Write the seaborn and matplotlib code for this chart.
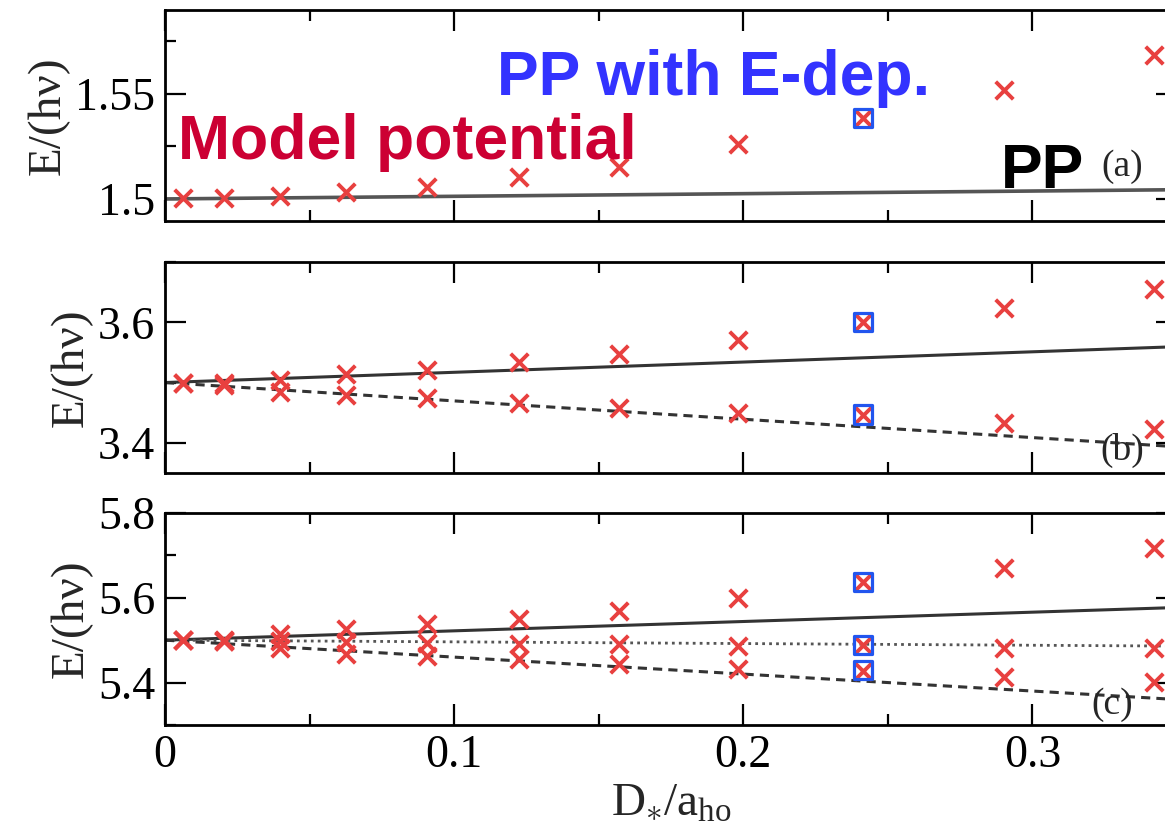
import numpy as np
import pandas as pd
import matplotlib
matplotlib.use("Agg")
import matplotlib.pyplot as plt
from matplotlib.ticker import MultipleLocator
import seaborn as sns

# ---------------- data ----------------
x_vals = [0.0062, 0.0204, 0.0398, 0.0626, 0.0907, 0.1225, 0.157, 0.198, 0.2415, 0.290, 0.342]

a_model = [1.5005, 1.5005, 1.5014, 1.5033, 1.5057, 1.5105, 1.5152, 1.5262, 1.5386, 1.5519, 1.5686]

b_model_up = [3.500, 3.500, 3.505, 3.515, 3.521, 3.534, 3.547, 3.570, 3.600, 3.623, 3.656]
b_model_dn = [3.499, 3.496, 3.485, 3.479, 3.474, 3.466, 3.457, 3.449, 3.447, 3.433, 3.423]

c_model_up = [5.500, 5.500, 5.514, 5.526, 5.538, 5.550, 5.569, 5.600, 5.638, 5.671, 5.717]
c_model_mid = [5.500, 5.499, 5.497, 5.496, 5.493, 5.492, 5.490, 5.486, 5.488, 5.482, 5.481]
c_model_dn = [5.500, 5.497, 5.481, 5.467, 5.462, 5.455, 5.443, 5.433, 5.428, 5.414, 5.402]

edep_x = [0.2415]
a_edep = [1.5386]
b_edep = [3.600, 3.447]
c_edep = [5.638, 5.488, 5.430]

line_x = [0.0, 0.35]
a_pp = [1.5, 1.5044]
b_pp_up = [3.5, 3.5595]
b_pp_dn = [3.5, 3.3935]
c_pp_up = [5.5, 5.577]
c_pp_mid = [5.5, 5.486]
c_pp_dn = [5.5, 5.360]

x_ticks = [0, 0.1, 0.2, 0.3]
ylabel = "E/(h\u03bd)"
xlabel = r"D$_{\ast}$/a$_{\rm ho}$"

# ---------------- style ----------------
sns.set_theme(style="ticks")
plt.rcParams["font.family"] = ["Liberation Serif", "DejaVu Serif"]
plt.rcParams["mathtext.fontset"] = "custom"
plt.rcParams["mathtext.rm"] = "Liberation Serif"
plt.rcParams["mathtext.it"] = "Liberation Serif:italic"
plt.rcParams["mathtext.bf"] = "Liberation Serif:bold"

RED = "#e8403f"
BLUE = "#2255ee"
TICK_FS = 33
LABEL_FS = 34

fig = plt.figure(figsize=(11.65, 8.33), dpi=100)
left = 165 / 1165
width = (1177 - 165) / 1165
ax_a = fig.add_axes([left, 0.7347, width, 0.2533])
ax_b = fig.add_axes([left, 0.4322, width, 0.2533])
ax_c = fig.add_axes([left, 0.1297, width, 0.2545])


def draw_line(ax, ys, ls, color="#333333", lw=2.2):
    df = pd.DataFrame({"x": line_x, "y": ys})
    sns.lineplot(data=df, x="x", y="y", ax=ax, color=color, lw=lw,
                 linestyle=ls, zorder=2, sort=False)


def draw_x(ax, ys):
    df = pd.DataFrame({"x": x_vals, "y": ys})
    sns.scatterplot(data=df, x="x", y="y", ax=ax, marker="x", s=160,
                    color=RED, linewidth=2.8, zorder=3)


def draw_sq(ax, ys):
    df = pd.DataFrame({"x": edep_x * len(ys), "y": ys})
    sns.scatterplot(data=df, x="x", y="y", ax=ax, marker="s", s=170,
                    facecolor="none", edgecolor=BLUE, linewidth=2.3, zorder=4)


# panel (a)
draw_line(ax_a, a_pp, "-", color="#555555", lw=2.6)
draw_x(ax_a, a_model)
draw_sq(ax_a, a_edep)
ax_a.set_ylim(1.4895, 1.59)
ax_a.yaxis.set_major_locator(MultipleLocator(0.05))
ax_a.yaxis.set_minor_locator(MultipleLocator(0.025))
ax_a.set_yticks([1.5, 1.55])
ax_a.set_yticklabels(["1.5", "1.55"])

# panel (b)
draw_line(ax_b, b_pp_up, "-")
draw_line(ax_b, b_pp_dn, (0, (3, 2)))
draw_x(ax_b, b_model_up)
draw_x(ax_b, b_model_dn)
draw_sq(ax_b, b_edep)
ax_b.set_ylim(3.35, 3.70)
ax_b.yaxis.set_major_locator(MultipleLocator(0.2))
ax_b.yaxis.set_minor_locator(MultipleLocator(0.1))

# panel (c)
draw_line(ax_c, c_pp_up, "-")
draw_line(ax_c, c_pp_mid, (0, (1, 1.5)), color="#555555", lw=2.0)
draw_line(ax_c, c_pp_dn, (0, (3, 2)))
draw_x(ax_c, c_model_up)
draw_x(ax_c, c_model_mid)
draw_x(ax_c, c_model_dn)
draw_sq(ax_c, c_edep)
ax_c.set_ylim(5.30, 5.80)
ax_c.yaxis.set_major_locator(MultipleLocator(0.2))
ax_c.yaxis.set_minor_locator(MultipleLocator(0.1))

for ax in (ax_a, ax_b, ax_c):
    ax.set_xlim(0, 0.35)
    ax.xaxis.set_major_locator(MultipleLocator(0.1))
    ax.xaxis.set_minor_locator(MultipleLocator(0.05))
    ax.tick_params(which="both", direction="in", top=True, right=True,
                   labelsize=TICK_FS, colors="black")
    ax.tick_params(which="major", length=15, width=1.6, pad=7)
    ax.tick_params(which="minor", length=8, width=1.6)
    for sp in ax.spines.values():
        sp.set_linewidth(2.0)
        sp.set_color("black")
        sp.set_visible(True)
    ax.set_ylabel(ylabel, fontsize=LABEL_FS, labelpad=4)
    ax.set_xlabel("")
    ax.grid(False)
    ax.set_facecolor("white")

ax_a.tick_params(labelbottom=False)
ax_b.tick_params(labelbottom=False)
ax_c.set_xticks(x_ticks)
ax_c.set_xticklabels(["0", "0.1", "0.2", "0.3"])
ax_c.set_xlabel(xlabel, fontsize=LABEL_FS, labelpad=4)

# annotations
sans = ["Liberation Sans", "DejaVu Sans"]
ax_a.text(0.0045, 1.519, "Model potential", color="#cc0033", fontsize=45,
          fontweight="bold", family=sans, ha="left", va="baseline", zorder=5)
ax_a.text(0.1149, 1.5495, "PP with E-dep.", color="#3333ff", fontsize=45,
          fontweight="bold", family=sans, ha="left", va="baseline", zorder=5)
ax_a.text(0.289, 1.5052, "PP", color="black", fontsize=45,
          fontweight="bold", family=sans, ha="left", va="baseline", zorder=5)
ax_a.text(0.331, 1.5152, "(a)", fontsize=27, ha="center", va="center")
ax_b.text(0.331, 3.387, "(b)", fontsize=27, ha="center", va="center")
ax_c.text(0.3277, 5.348, "(c)", fontsize=27, ha="center", va="center")

fig.savefig("out.png", dpi=100, facecolor="white")
